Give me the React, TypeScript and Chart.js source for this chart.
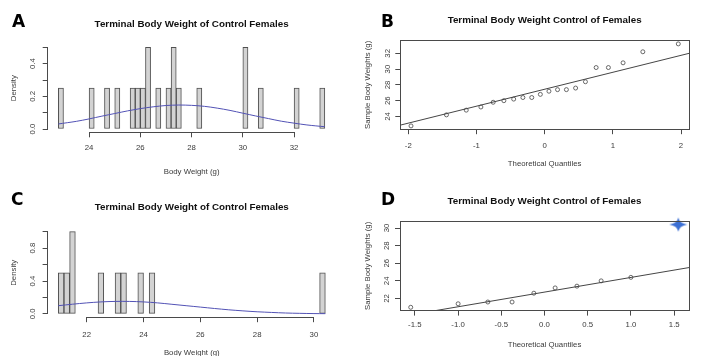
import React, { useEffect, useRef } from "react";
import { Chart, registerables } from "chart.js";

Chart.register(...registerables);

const FONT = "'Liberation Sans', Arial, Helvetica, sans-serif";
Chart.defaults.font.family = FONT;

// ---------- Panel A : histogram of control females (n = 20) ----------
const aBinCenters = [22.9, 24.1, 24.7, 25.1, 25.7, 25.9, 26.1, 26.3, 26.7, 27.1, 27.3, 27.5, 28.3, 30.1, 30.7, 32.1, 33.1];
const aDensity = [0.25, 0.25, 0.25, 0.25, 0.25, 0.25, 0.25, 0.5, 0.25, 0.25, 0.5, 0.25, 0.25, 0.5, 0.25, 0.25, 0.25];
const aCurveX = [22.8, 23.5, 24, 24.5, 25, 25.5, 26, 26.5, 27, 27.5, 28, 28.5, 29, 29.5, 30, 30.5, 31, 31.5, 32, 32.5, 33.2];
const aCurveY = [0.031, 0.047, 0.062, 0.079, 0.095, 0.111, 0.125, 0.136, 0.144, 0.147, 0.145, 0.139, 0.128, 0.114, 0.097, 0.08, 0.064, 0.048, 0.036, 0.025, 0.014];
const aXTicks = [24, 26, 28, 30, 32];
const aYTicks = [0, 0.1, 0.2, 0.3, 0.4, 0.5];
const aYLabelled = [0, 0.2, 0.4];
const aXRange = [22.384, 33.616];
const aYRange = [-0.02, 0.52];

// ---------- Panel B : normal Q-Q plot (n = 20) ----------
const bTheoretical = [-1.96, -1.44, -1.15, -0.935, -0.755, -0.598, -0.454, -0.319, -0.189, -0.063, 0.063, 0.189, 0.319, 0.454, 0.598, 0.755, 0.935, 1.15, 1.44, 1.96];
const bSample = [22.8, 24.2, 24.8, 25.2, 25.8, 26.0, 26.2, 26.4, 26.4, 26.8, 27.2, 27.4, 27.4, 27.6, 28.4, 30.2, 30.2, 30.8, 32.2, 33.2];
const bLineX = [-2.117, 2.117];
const bLineY = [22.9, 32.0];
const bXTicks = [-2, -1, 0, 1, 2];
const bYTicks = [24, 26, 28, 30, 32];
const bXRange = [-2.117, 2.117];
const bYRange = [22.384, 33.616];

// ---------- Panel C : histogram (n = 10) ----------
const cBinCenters = [21.1, 21.3, 21.5, 22.5, 23.1, 23.3, 23.9, 24.3, 30.3];
const cDensity = [0.5, 0.5, 1.0, 0.5, 0.5, 0.5, 0.5, 0.5, 0.5];
const cCurveX = [21.0, 21.5, 22, 22.5, 23, 23.5, 24, 24.5, 25, 25.5, 26, 26.5, 27, 27.5, 28, 28.5, 29, 29.5, 30, 30.4];
const cCurveY = [0.1, 0.118, 0.134, 0.146, 0.152, 0.152, 0.146, 0.134, 0.117, 0.1, 0.083, 0.066, 0.05, 0.037, 0.026, 0.018, 0.011, 0.007, 0.004, 0.003];
const cXTicks = [22, 24, 26, 28, 30];
const cYTicks = [0, 0.2, 0.4, 0.6, 0.8, 1.0];
const cYLabelled = [0, 0.4, 0.8];
const cXRange = [20.624, 30.776];
const cYRange = [-0.04, 1.04];

// ---------- Panel D : normal Q-Q plot (n = 10) ----------
const dTheoretical = [-1.547, -0.999, -0.655, -0.375, -0.123, 0.123, 0.375, 0.655, 0.999, 1.547];
const dSample = [21.0, 21.4, 21.6, 21.6, 22.6, 23.2, 23.4, 24.0, 24.4, 30.4];
const dOutlierIndex = [9];
const dLineX = [-1.671, 1.671];
const dLineY = [19.94, 25.51];
const dXTicks = [-1.5, -1.0, -0.5, 0.0, 0.5, 1.0, 1.5];
const dYTicks = [22, 24, 26, 28, 30];
const dXRange = [-1.671, 1.671];
const dYRange = [20.624, 30.776];

// ---------- styles ----------
const AXIS = "#4a4a4a";
const TICK_TEXT = "#3a3a3a";
const LABEL_TEXT = "#3a3a3a";
const TITLE_TEXT = "#111111";
const BAR_FILL = "#d3d3d3";
const BAR_EDGE = "#505050";
const CURVE = "#5252b5";
const POINT = "#454545";
const STAR = "#3b6fd4";
const AX_SIZE = 7.8;

type L = {
  padRight: number; xH: number; yW: number; titleTop: number; titleBottom: number;
  xTickPad: number; xTitlePad: number; yTickPad: number; yTitlePad: number;
};

const layoutA: L = { padRight: 14.5, xH: 45.7, yW: 47.7, titleTop: 18.8, titleBottom: 13.54, xTickPad: 6.3, xTitlePad: 1.6, yTickPad: 4, yTitlePad: 9.3 };
const layoutB: L = { padRight: 12, xH: 48.8, yW: 50.3, titleTop: 14.4, titleBottom: 14.44, xTickPad: 6.8, xTitlePad: 9.3, yTickPad: 2.65, yTitlePad: 13.6 };
const layoutC: L = { padRight: 14, xH: 42.8, yW: 47.6, titleTop: 23.6, titleBottom: 15.04, xTickPad: 8.4, xTitlePad: 2.8, yTickPad: 4, yTitlePad: 9.3 };
const layoutD: L = { padRight: 12, xH: 45.4, yW: 50, titleTop: 17.8, titleBottom: 13.64, xTickPad: 5, xTitlePad: 6.6, yTickPad: 3.35, yTitlePad: 13.6 };

const near = (list: number[], v: number) => list.some((l) => Math.abs(l - v) < 1e-9);

function xScale(range: number[], ticks: number[], fmt: (v: number) => string, title: string, lay: L) {
  return {
    type: "linear",
    position: "bottom",
    min: range[0],
    max: range[1],
    bounds: "data",
    offset: false,
    afterBuildTicks: (s: any) => { s.ticks = ticks.map((v) => ({ value: v })); },
    afterFit: (s: any) => { s.height = lay.xH; },
    grid: { display: true, drawOnChartArea: false, drawTicks: true, tickLength: 5, color: AXIS, lineWidth: 1, offset: false },
    border: { display: false },
    ticks: {
      autoSkip: false, minRotation: 0, maxRotation: 0, padding: lay.xTickPad, color: TICK_TEXT,
      font: { family: FONT, size: AX_SIZE },
      callback: (v: any) => fmt(Number(v)),
    },
    title: { display: true, text: title, color: LABEL_TEXT, font: { family: FONT, size: AX_SIZE }, padding: { top: 0, bottom: lay.xTitlePad } },
  };
}

function yScale(range: number[], ticks: number[], labelled: number[], fmt: (v: number) => string, title: string, lay: L) {
  return {
    type: "linear",
    position: "left",
    min: range[0],
    max: range[1],
    bounds: "data",
    afterBuildTicks: (s: any) => { s.ticks = ticks.map((v) => ({ value: v })); },
    afterFit: (s: any) => { s.width = lay.yW; },
    grid: { display: true, drawOnChartArea: false, drawTicks: true, tickLength: 5, color: AXIS, lineWidth: 1 },
    border: { display: false },
    ticks: {
      autoSkip: false, minRotation: 90, maxRotation: 90, crossAlign: "center", padding: lay.yTickPad, color: TICK_TEXT,
      font: { family: FONT, size: AX_SIZE },
      callback: (v: any) => (near(labelled, Number(v)) ? fmt(Number(v)) : ""),
    },
    title: { display: true, text: title, color: LABEL_TEXT, font: { family: FONT, size: AX_SIZE }, padding: { top: lay.yTitlePad, bottom: 0 } },
  };
}

function titleOpts(text: string, lay: L) {
  return {
    display: true,
    text,
    fullSize: false,
    color: TITLE_TEXT,
    font: { family: FONT, size: 9.8, weight: "bold", lineHeight: 1.2 },
    padding: { top: lay.titleTop, bottom: lay.titleBottom },
  };
}

const px = (v: number) => Math.round(v - 0.5) + 0.5;

// R-style axis lines: from first to last tick only
const rAxisPlugin = {
  id: "rAxis",
  afterDraw(chart: any) {
    const { ctx, chartArea, scales } = chart;
    const xs = scales.x, ys = scales.y;
    ctx.save();
    ctx.strokeStyle = AXIS;
    ctx.lineWidth = 1;
    ctx.beginPath();
    const by = px(chartArea.bottom);
    ctx.moveTo(xs.getPixelForValue(xs.ticks[0].value), by);
    ctx.lineTo(xs.getPixelForValue(xs.ticks[xs.ticks.length - 1].value), by);
    const lx = px(chartArea.left);
    ctx.moveTo(lx, ys.getPixelForValue(ys.ticks[0].value));
    ctx.lineTo(lx, ys.getPixelForValue(ys.ticks[ys.ticks.length - 1].value));
    ctx.stroke();
    ctx.restore();
  },
};

// box around plot region (R's box())
const boxPlugin = {
  id: "rBox",
  afterDraw(chart: any) {
    const { ctx, chartArea } = chart;
    ctx.save();
    ctx.strokeStyle = AXIS;
    ctx.lineWidth = 1;
    const l = px(chartArea.left), t = px(chartArea.top), r = px(chartArea.right), b = px(chartArea.bottom);
    ctx.strokeRect(l, t, r - l, b - t);
    ctx.restore();
  },
};

function histConfig(centers: number[], dens: number[], cx: number[], cy: number[], xr: number[], yr: number[], xt: number[], yt: number[], yl: number[], lay: L) {
  return {
    type: "bar",
    data: {
      datasets: [
        {
          type: "line",
          data: cx.map((x, i) => ({ x, y: cy[i] })),
          borderColor: CURVE,
          borderWidth: 1,
          pointRadius: 0,
          tension: 0.3,
          fill: false,
          order: 1,
        },
        {
          type: "bar",
          data: centers.map((x, i) => ({ x, y: dens[i] })),
          backgroundColor: BAR_FILL,
          borderColor: BAR_EDGE,
          borderWidth: 1,
          borderSkipped: false,
          categoryPercentage: 1,
          barPercentage: 1,
          order: 2,
        },
      ],
    },
    options: {
      responsive: false,
      animation: false,
      devicePixelRatio: 1,
      layout: { padding: { left: 0, top: 0, right: lay.padRight, bottom: 0 } },
      plugins: {
        legend: { display: false },
        tooltip: { enabled: false },
        title: titleOpts("Terminal Body Weight of Control Females", lay),
      },
      scales: {
        x: xScale(xr, xt, (v) => String(v), "Body Weight (g)", lay),
        y: yScale(yr, yt, yl, (v) => v.toFixed(1), "Density", lay),
      },
    },
    plugins: [rAxisPlugin],
  };
}

function qqConfig(tx: number[], sy: number[], outliers: number[], lx: number[], ly: number[], xr: number[], yr: number[], xt: number[], yt: number[], xfmt: (v: number) => string, lay: L, star: HTMLCanvasElement) {
  const normal = tx.map((x, i) => ({ x, y: sy[i], i })).filter((p) => !outliers.includes(p.i)).map(({ x, y }) => ({ x, y }));
  const outl = tx.map((x, i) => ({ x, y: sy[i], i })).filter((p) => outliers.includes(p.i)).map(({ x, y }) => ({ x, y }));
  const datasets: any[] = [
    {
      data: lx.map((x, i) => ({ x, y: ly[i] })),
      showLine: true,
      borderColor: POINT,
      borderWidth: 1,
      pointRadius: 0,
      order: 2,
    },
    {
      data: normal,
      pointStyle: "circle",
      pointRadius: 2,
      pointBorderWidth: 0.8,
      pointBackgroundColor: "rgba(0,0,0,0)",
      pointBorderColor: POINT,
      order: 1,
    },
  ];
  if (outl.length) {
    datasets.push({
      data: outl,
      pointStyle: star,
      pointRadius: 9,
      clip: false,
      order: 0,
    });
  }
  return {
    type: "scatter",
    data: { datasets },
    options: {
      responsive: false,
      animation: false,
      devicePixelRatio: 1,
      layout: { padding: { left: 0, top: 0, right: lay.padRight, bottom: 0 } },
      plugins: {
        legend: { display: false },
        tooltip: { enabled: false },
        title: titleOpts("Terminal Body Weight Control of Females", lay),
      },
      scales: {
        x: xScale(xr, xt, xfmt, "Theoretical Quantiles", lay),
        y: yScale(yr, yt, yt, (v) => String(v), "Sample Body Weights (g)", lay),
      },
    },
    plugins: [boxPlugin],
  };
}

function makeStar(): HTMLCanvasElement {
  const c = document.createElement("canvas");
  c.width = 20;
  c.height = 16;
  const g = c.getContext("2d")!;
  const cx = 10, cy = 8, rx = 9, ry = 7, ri = 1.2;
  g.beginPath();
  g.moveTo(cx + rx, cy);
  g.quadraticCurveTo(cx + ri, cy + ri, cx, cy + ry);
  g.quadraticCurveTo(cx - ri, cy + ri, cx - rx, cy);
  g.quadraticCurveTo(cx - ri, cy - ri, cx, cy - ry);
  g.quadraticCurveTo(cx + ri, cy - ri, cx + rx, cy);
  g.closePath();
  g.fillStyle = STAR;
  g.fill();
  return c;
}

const letter = (left: number, top: number): React.CSSProperties => ({
  position: "absolute",
  left,
  top,
  fontFamily: "'DejaVu Sans', 'Liberation Sans', Arial, sans-serif",
  fontWeight: "bold",
  fontSize: 17,
  lineHeight: "17px",
  color: "#000",
});

export default function App() {
  const refA = useRef<HTMLCanvasElement>(null);
  const refB = useRef<HTMLCanvasElement>(null);
  const refC = useRef<HTMLCanvasElement>(null);
  const refD = useRef<HTMLCanvasElement>(null);

  useEffect(() => {
    const star = makeStar();
    const charts = [
      new Chart(refA.current as any, histConfig(aBinCenters, aDensity, aCurveX, aCurveY, aXRange, aYRange, aXTicks, aYTicks, aYLabelled, layoutA) as any),
      new Chart(refB.current as any, qqConfig(bTheoretical, bSample, [], bLineX, bLineY, bXRange, bYRange, bXTicks, bYTicks, (v) => String(v), layoutB, star) as any),
      new Chart(refC.current as any, histConfig(cBinCenters, cDensity, cCurveX, cCurveY, cXRange, cYRange, cXTicks, cYTicks, cYLabelled, layoutC) as any),
      new Chart(refD.current as any, qqConfig(dTheoretical, dSample, dOutlierIndex, dLineX, dLineY, dXRange, dYRange, dXTicks, dYTicks, (v) => v.toFixed(1), layoutD, star) as any),
    ];
    return () => charts.forEach((c) => c.destroy());
  }, []);

  const cv = (left: number, top: number, w: number, h: number): React.CSSProperties => ({
    position: "absolute", left, top, width: w, height: h, display: "block",
  });

  return (
    <div style={{ position: "fixed", left: 0, top: 0, width: 701, height: 356, overflow: "hidden", background: "#fff" }}>
      <canvas ref={refA} width={350} height={178} style={cv(0, 0, 350, 178)} />
      <canvas ref={refB} width={351} height={178} style={cv(350, 0, 351, 178)} />
      <canvas ref={refC} width={350} height={182} style={cv(0, 178, 350, 182)} />
      <canvas ref={refD} width={351} height={178} style={cv(350, 178, 351, 178)} />
      <div style={letter(12, 13)}>A</div>
      <div style={letter(381, 13)}>B</div>
      <div style={letter(11, 191)}>C</div>
      <div style={letter(381, 191)}>D</div>
    </div>
  );
}
